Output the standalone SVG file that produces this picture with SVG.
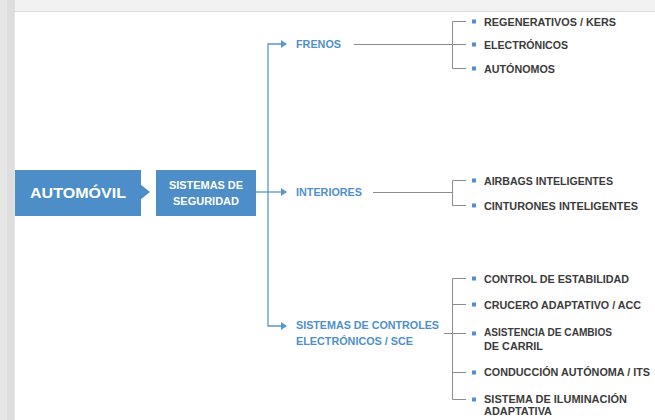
<svg xmlns="http://www.w3.org/2000/svg" width="655" height="420" viewBox="0 0 655 420">
<style>
.bg{fill:#ffffff}
.box{fill:#4d8ec8}
.wt{fill:#ffffff;font-family:"Liberation Sans",Arial,sans-serif;font-weight:bold}
.lbl{fill:#4f8fcc;font-family:"Liberation Sans",Arial,sans-serif;font-weight:bold;font-size:10.5px}
.itm{fill:#3b3b3b;font-family:"Liberation Sans",Arial,sans-serif;font-weight:bold;font-size:10.5px}
.main{fill:none;stroke:#5a96cf;stroke-width:1.3}
.br{fill:none;stroke:#8c8c8c;stroke-width:1}
.blt{fill:#4f8fcc}
.ah{fill:#5a96cf}
</style>
<defs>
<rect id="sq" class="blt" x="0" y="-2" width="4" height="4"/>
<path id="arr" class="ah" d="M0,-4 L6,0 L0,4 Z"/>
</defs>
<rect class="bg" x="0" y="0" width="655" height="420"/>
<rect x="0" y="0" width="655" height="11" fill="#f2f2f2"/>
<line x1="0" y1="11.5" x2="655" y2="11.5" stroke="#dcdcdc" stroke-width="1.2"/>
<rect x="0" y="0" width="14" height="420" fill="#e6e6e6"/>
<rect x="7" y="0" width="6" height="420" fill="#dedede"/>
<line x1="14" y1="0" x2="14" y2="420" stroke="#d0d0d0" stroke-width="1"/>

<g id="connectors">
<path class="main" d="M281,44 H268 V326 H281"/>
<line class="main" x1="256" y1="192" x2="281" y2="192"/>
<use href="#arr" x="281" y="44"/>
<use href="#arr" x="281" y="192"/>
<use href="#arr" x="281" y="326"/>
<line class="br" x1="354" y1="44.5" x2="466" y2="44.5"/>
<path class="br" d="M466,21.5 H452.5 V68.5 H466"/>
<line class="br" x1="373" y1="192.5" x2="452.5" y2="192.5"/>
<path class="br" d="M466,180.5 H452.5 V205.5 H466"/>
<line class="br" x1="444" y1="333.5" x2="466" y2="333.5"/>
<path class="br" d="M466,278.5 H452.5 V399.5 H466 M452.5,304.5 H466 M452.5,372.5 H466"/>
</g>

<g id="automovil">
<rect class="box" x="15" y="170" width="126" height="46"/>
<path class="box" d="M140,184 L150,192 L140,200 Z"/>
<text class="wt" x="78" y="197.5" font-size="15" text-anchor="middle" textLength="96" lengthAdjust="spacingAndGlyphs">AUTOMÓVIL</text>
</g>

<g id="sistemas-seguridad">
<rect class="box" x="156" y="170" width="100" height="46"/>
<text class="wt" x="206" y="189" font-size="10.5" text-anchor="middle" textLength="74" lengthAdjust="spacingAndGlyphs">SISTEMAS DE</text>
<text class="wt" x="206" y="205" font-size="10.5" text-anchor="middle" textLength="66" lengthAdjust="spacingAndGlyphs">SEGURIDAD</text>
</g>

<g id="frenos">
<text class="lbl" x="296" y="48" textLength="45" lengthAdjust="spacingAndGlyphs">FRENOS</text>
</g>
<g id="interiores">
<text class="lbl" x="296" y="196" textLength="66" lengthAdjust="spacingAndGlyphs">INTERIORES</text>
</g>
<g id="sce">
<text class="lbl" x="296" y="329" textLength="143" lengthAdjust="spacingAndGlyphs">SISTEMAS DE CONTROLES</text>
<text class="lbl" x="296" y="345" textLength="117" lengthAdjust="spacingAndGlyphs">ELECTRÓNICOS / SCE</text>
</g>

<g id="regenerativos"><use href="#sq" x="472" y="21.5"/><text class="itm" x="484" y="25.5" textLength="132" lengthAdjust="spacingAndGlyphs">REGENERATIVOS / KERS</text></g>
<g id="electronicos"><use href="#sq" x="472" y="44.5"/><text class="itm" x="484" y="48.5" textLength="84" lengthAdjust="spacingAndGlyphs">ELECTRÓNICOS</text></g>
<g id="autonomos"><use href="#sq" x="472" y="68.5"/><text class="itm" x="484" y="72.5" textLength="71" lengthAdjust="spacingAndGlyphs">AUTÓNOMOS</text></g>

<g id="airbags"><use href="#sq" x="472" y="180.5"/><text class="itm" x="484" y="184.5" textLength="129" lengthAdjust="spacingAndGlyphs">AIRBAGS INTELIGENTES</text></g>
<g id="cinturones"><use href="#sq" x="472" y="205.5"/><text class="itm" x="484" y="209.5" textLength="154" lengthAdjust="spacingAndGlyphs">CINTURONES INTELIGENTES</text></g>

<g id="control-estabilidad"><use href="#sq" x="472" y="278.5"/><text class="itm" x="484" y="282.5" textLength="145" lengthAdjust="spacingAndGlyphs">CONTROL DE ESTABILIDAD</text></g>
<g id="crucero"><use href="#sq" x="472" y="304.5"/><text class="itm" x="484" y="308.5" textLength="157" lengthAdjust="spacingAndGlyphs">CRUCERO ADAPTATIVO / ACC</text></g>
<g id="asistencia"><use href="#sq" x="472" y="333.5"/><text class="itm" x="484" y="336" textLength="128" lengthAdjust="spacingAndGlyphs">ASISTENCIA DE CAMBIOS</text><text class="itm" x="484" y="350" textLength="59" lengthAdjust="spacingAndGlyphs">DE CARRIL</text></g>
<g id="conduccion"><use href="#sq" x="472" y="372.5"/><text class="itm" x="484" y="376" textLength="166" lengthAdjust="spacingAndGlyphs">CONDUCCIÓN AUTÓNOMA / ITS</text></g>
<g id="iluminacion"><use href="#sq" x="472" y="399.5"/><text class="itm" x="484" y="403" textLength="143" lengthAdjust="spacingAndGlyphs">SISTEMA DE ILUMINACIÓN</text><text class="itm" x="484" y="415" textLength="68" lengthAdjust="spacingAndGlyphs">ADAPTATIVA</text></g>
</svg>
